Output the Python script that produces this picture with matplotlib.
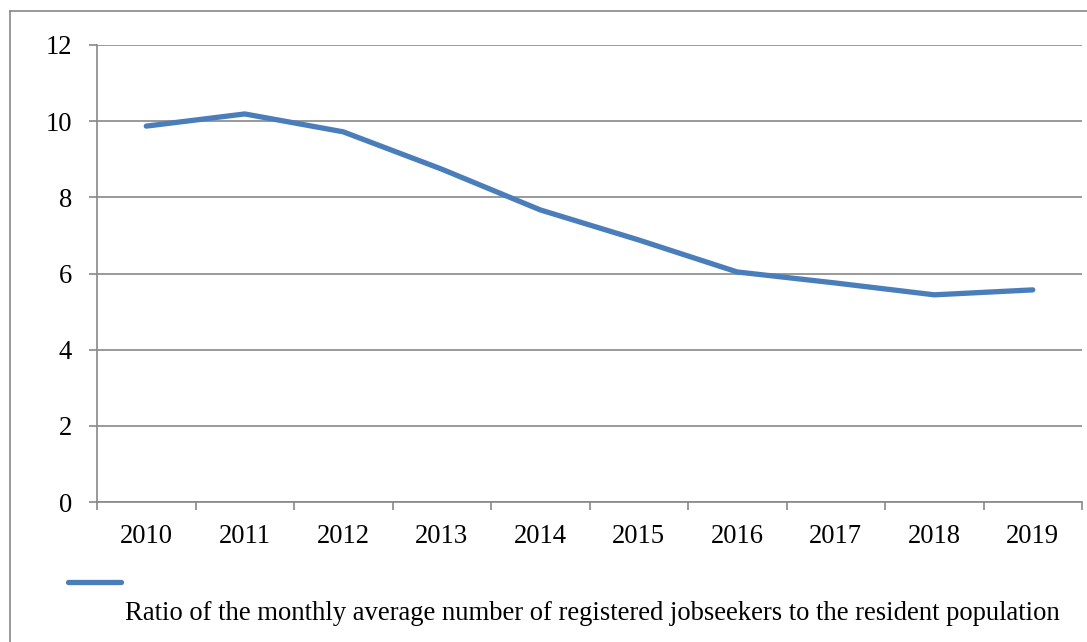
import numpy as np
import matplotlib.pyplot as plt
from matplotlib.lines import Line2D

years = ['2010', '2011', '2012', '2013', '2014', '2015', '2016', '2017', '2018', '2019']
ratio = [9.87, 10.19, 9.72, 8.74, 7.67, 6.88, 6.04, 5.75, 5.44, 5.57]
label = 'Ratio of the monthly average number of registered jobseekers to the resident population'

plt.rcParams['font.family'] = ['Liberation Serif', 'DejaVu Serif']
grey = '#888888'
blue = '#4a7ebb'

fig = plt.figure(figsize=(10.87, 6.42), dpi=100)
ax = fig.add_axes([97 / 1087, 1 - 502 / 642, 985 / 1087, 457 / 642])

x = np.arange(len(years))
ax.plot(x, ratio, color=blue, lw=3.8, solid_capstyle='round', solid_joinstyle='round')

ax.set_xlim(-0.5, len(years) - 0.5)
ax.set_ylim(0, 12)
ax.set_yticks(np.arange(0, 13, 2))
ax.yaxis.grid(True, color=grey, lw=1.2)
ax.set_axisbelow(True)

ax.set_xticks(x)
ax.set_xticklabels(years)
ax.set_xticks(np.arange(-0.5, len(years), 1), minor=True)
ax.tick_params(axis='x', which='major', length=0, pad=16, labelsize=19.2)
ax.tick_params(axis='x', which='minor', length=6, width=1.2, color=grey, direction='out')
ax.tick_params(axis='y', length=6, width=1.2, color=grey, direction='out', pad=12, labelsize=19.2)

for s in ['top', 'right']:
    ax.spines[s].set_visible(False)
for s in ['left', 'bottom']:
    ax.spines[s].set_color(grey)
    ax.spines[s].set_linewidth(1.2)

# outer chart frame (left and top edges visible)
fig.add_artist(Line2D([10 / 1087, 10 / 1087], [0, 1 - 11 / 642], color=grey, lw=1.2))
fig.add_artist(Line2D([10 / 1087, 1], [1 - 11 / 642, 1 - 11 / 642], color=grey, lw=1.2))

# legend
fig.add_artist(Line2D([68 / 1087, 121 / 1087], [1 - 582 / 642, 1 - 582 / 642],
                      color=blue, lw=3.8, solid_capstyle='round'))
fig.text(125 / 1087, 1 - 620 / 642, label, fontsize=19.2, ha='left', va='baseline')

fig.savefig('out.png', dpi=100)
